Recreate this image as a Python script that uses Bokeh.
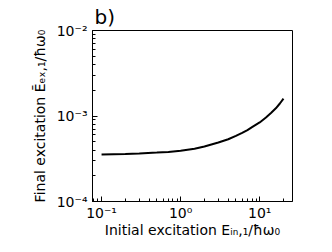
from bokeh.plotting import figure
from bokeh.models import CustomJSTickFormatter, FixedTicker
from bokeh.embed import file_html
from bokeh.resources import INLINE

# Data
e_in = [0.1, 0.2, 0.3, 0.5, 0.7, 1.0, 1.5, 2.0, 3.0, 4.0, 5.0, 6.0, 7.0, 8.0,
        10.0, 12.0, 14.0, 16.0, 18.0, 20.0]
e_ex = [3.55e-4, 3.6e-4, 3.65e-4, 3.73e-4, 3.8e-4, 3.92e-4, 4.15e-4, 4.4e-4,
        4.9e-4, 5.35e-4, 5.85e-4, 6.35e-4, 6.85e-4, 7.4e-4, 8.4e-4, 9.6e-4,
        1.09e-3, 1.23e-3, 1.4e-3, 1.6e-3]

x_major = [0.1, 1.0, 10.0]
x_minor = [0.08, 0.09, 0.2, 0.3, 0.4, 0.5, 0.6, 0.7, 0.8, 0.9,
           2, 3, 4, 5, 6, 7, 8, 9, 20]
y_major = [1e-4, 1e-3, 1e-2]
y_minor = [k * 1e-4 for k in range(2, 10)] + [k * 1e-3 for k in range(2, 10)]

x_label = "Initial excitation Eᵢₙ,₁/ħω₀"
y_label = "Final excitation Ēₑₓ,₁/ħω₀"
panel = "b)"

FONT = "DejaVu Sans"

p = figure(width=316, height=244, x_axis_type="log", y_axis_type="log",
           x_range=(0.0768, 26.0), y_range=(1e-4, 1e-2),
           output_backend="svg", toolbar_location=None,
           min_border_left=92, min_border_right=24, min_border_top=30,
           min_border_bottom=43, title=panel)

p.title.align = "left"
p.title.offset = 2
p.title.standoff = 4
p.title.text_font = FONT
p.title.text_font_size = "20px"
p.title.text_font_style = "normal"
p.title.text_color = "black"

p.line(e_in, e_ex, line_color="black", line_width=2)

p.grid.visible = False
p.outline_line_color = "black"
p.outline_line_width = 1
p.background_fill_color = "white"
p.border_fill_color = "white"

sup = CustomJSTickFormatter(code="""
const e = Math.round(Math.log10(tick));
const m = {'-':'\u207b','0':'\u2070','1':'\u00b9','2':'\u00b2','3':'\u00b3','4':'\u2074',
           '5':'\u2075','6':'\u2076','7':'\u2077','8':'\u2078','9':'\u2079'};
return '10' + String(e).split('').map(c => m[c]).join('');
""")

p.xaxis[0].ticker = FixedTicker(ticks=x_major, minor_ticks=x_minor)
p.yaxis[0].ticker = FixedTicker(ticks=y_major, minor_ticks=y_minor)

for ax in (p.xaxis[0], p.yaxis[0]):
    ax.formatter = sup
    ax.major_tick_in = 5
    ax.major_tick_out = 0
    ax.minor_tick_in = 3
    ax.minor_tick_out = 0
    ax.axis_line_color = "black"
    ax.major_tick_line_color = "black"
    ax.minor_tick_line_color = "black"
    ax.major_label_text_font = FONT
    ax.major_label_text_font_size = "14px"
    ax.major_label_text_color = "black"
    ax.axis_label_text_font = FONT
    ax.axis_label_text_font_size = "14px"
    ax.axis_label_text_font_style = "normal"
    ax.axis_label_text_color = "black"

p.xaxis.axis_label = x_label
p.yaxis.axis_label = y_label
p.xaxis.major_label_standoff = 3
p.yaxis.major_label_standoff = 5
p.xaxis.axis_label_standoff = -2
p.yaxis.axis_label_standoff = 6

open("out.html", "w").write(file_html(p, INLINE))
